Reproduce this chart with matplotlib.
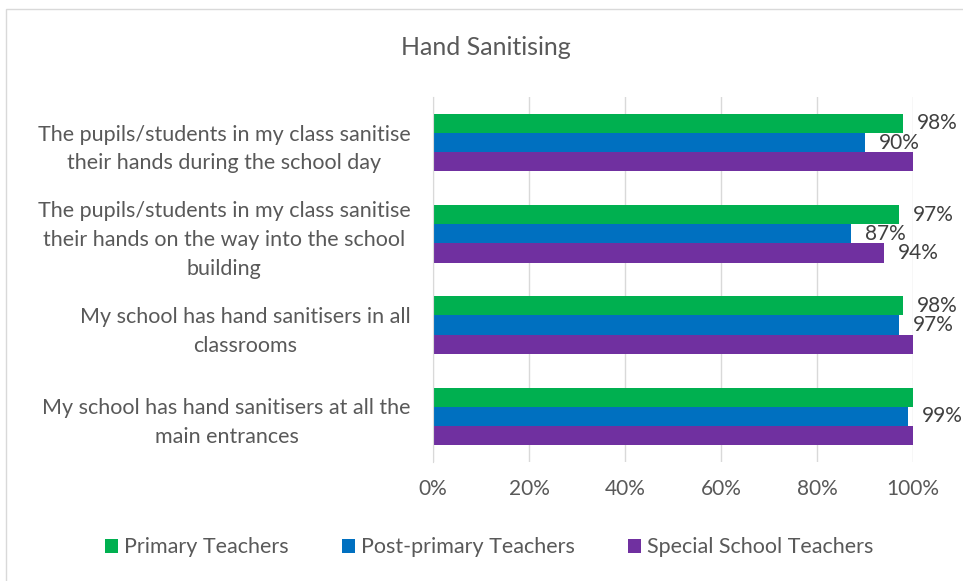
"""Horizontal grouped bar chart of hand sanitising survey responses."""
import matplotlib.pyplot as plt
import numpy as np
from matplotlib.patches import Patch, Rectangle

plt.rcParams["font.family"] = ["Lato", "DejaVu Sans"]

# Categories listed top to bottom
categories = [
    "The pupils/students in my class sanitise\ntheir hands during the school day",
    "The pupils/students in my class sanitise\ntheir hands on the way into the school\nbuilding",
    "My school has hand sanitisers in all\nclassrooms",
    "My school has hand sanitisers at all the\nmain entrances",
]
series_names = ["Primary Teachers", "Post-primary Teachers", "Special School Teachers"]
primary = [98, 97, 98, 100]
post_primary = [90, 87, 97, 99]
special = [100, 94, 100, 100]
x_ticks = [0, 20, 40, 60, 80, 100]

colors = ["#00B050", "#0070C0", "#7030A0"]
text_grey = "#595959"
label_grey = "#404040"
fs = 15.5

fig = plt.figure(figsize=(9.63, 5.81), dpi=100)
ax = fig.add_axes([0.4496, 0.205, 0.4985, 0.628])

y = np.arange(len(categories))
bar_h = 0.21
for i, (vals, color, name) in enumerate(zip([primary, post_primary, special], colors, series_names)):
    pos = y + (i - 1) * bar_h
    ax.barh(pos, vals, height=bar_h, color=color, label=name, zorder=2)
    for p, v in zip(pos, vals):
        # 100% bars carry no value label
        if v < 100:
            ax.annotate(f"{v}%", (v, p), xytext=(10, 0), textcoords="offset points",
                        va="center", ha="left", fontsize=15, color=label_grey,
                        annotation_clip=False)

ax.set_xlim(0, 100)
ax.set_ylim(len(categories) - 0.5, -0.5)
ax.set_xticks(x_ticks)
ax.set_xticklabels([f"{t}%" for t in x_ticks], fontsize=15, color=text_grey)
ax.set_yticks(y)
ax.set_yticklabels(categories, fontsize=fs, color=text_grey, multialignment="center")
for lbl in ax.get_yticklabels():
    lbl.set_linespacing(1.55)
ax.tick_params(axis="x", length=0, pad=12)
ax.tick_params(axis="y", length=0, pad=16)
ax.grid(axis="x", color="#d9d9d9", linewidth=1, zorder=0)
for s in ["top", "right", "bottom"]:
    ax.spines[s].set_visible(False)
ax.spines["left"].set_color("#d9d9d9")

fig.text(0.505, 0.918, "Hand Sanitising", ha="center", va="center", fontsize=18, color=text_grey)

handles = [Patch(facecolor=c, label=n) for c, n in zip(colors, series_names)]
fig.legend(handles=handles, loc="center", bbox_to_anchor=(0.508, 0.058), ncol=3, frameon=False,
           fontsize=fs, labelcolor=text_grey, handlelength=0.6, handleheight=0.6,
           handletextpad=0.3, columnspacing=2.45)

# Light frame around the chart area
fig.patches.append(Rectangle((0.006, -0.5), 1.5, 0.5 + 1 - 9 / 581, transform=fig.transFigure,
                             fill=False, edgecolor="#d9d9d9", linewidth=1))

fig.savefig("out.png", dpi=100)
